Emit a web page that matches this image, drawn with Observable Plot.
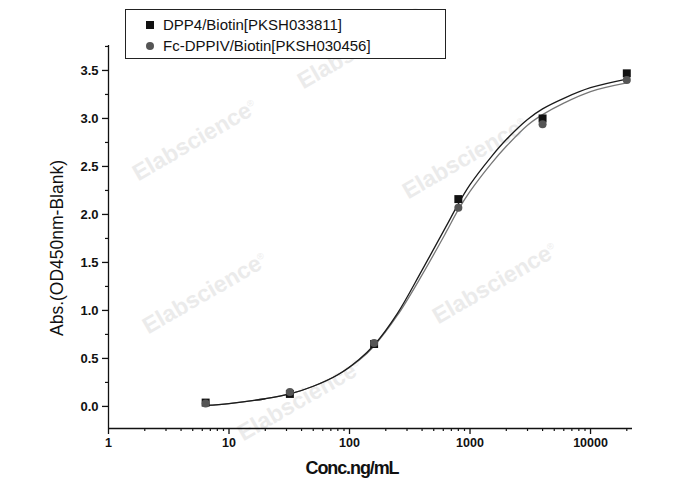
<!DOCTYPE html>
<html>
<head>
<meta charset="utf-8">
<script src="https://cdn.jsdelivr.net/npm/d3@7"></script>
<script src="https://cdn.jsdelivr.net/npm/@observablehq/plot@0.6"></script>
<style>
  html, body { margin: 0; padding: 0; background: #fff; }
  #wrap { position: relative; width: 688px; height: 490px; font-family: "Liberation Sans", Arial, sans-serif; overflow: hidden; }
  .wm { position: absolute; color: #ebebeb; font-weight: bold; font-size: 23px; transform: translate(-50%, -50%) rotate(-30deg); white-space: nowrap; z-index: 0; }
  .wm sup { font-size: 9px; font-weight: normal; }
  #plot { position: absolute; left: 0; top: 0; z-index: 1; }
  #legend { position: absolute; left: 125px; top: 9px; width: 321px; height: 50px; border: 1px solid #222; background: #fff; z-index: 2; box-sizing: border-box; font-size: 15px; color: #111; }
  .lrow { position: absolute; left: 20px; display: flex; align-items: center; }
  .sq { width: 8px; height: 8px; background: #111; margin-right: 9px; }
  .ci { width: 8px; height: 8px; border-radius: 50%; background: #555; margin-right: 9px; }
  #ytitle { position: absolute; left: 57px; top: 248px; transform: translate(-50%, -50%) rotate(-90deg); font-size: 17.5px; color: #111; white-space: nowrap; z-index: 2; }
  #xtitle { position: absolute; left: 352px; top: 468px; transform: translate(-50%, -50%); font-size: 18px; font-weight: bold; color: #111; white-space: nowrap; letter-spacing: -1.1px; z-index: 2; }
</style>
</head>
<body>
<div id="wrap"></div>
<script>
// Measured points
const conc = [6.4, 32, 160, 800, 4000, 20000];
const dpp4 = [0.04, 0.13, 0.65, 2.16, 3.00, 3.47];
const fcDppiv = [0.03, 0.15, 0.66, 2.07, 2.94, 3.40];

// Fitted curves
const curveConc = [6.4, 10, 20, 32, 50, 80, 120, 160, 250, 400, 630, 800, 1000, 1500, 2000, 3000, 4000, 6000, 10000, 20000];
const curveDpp4 = [0.01, 0.03, 0.08, 0.13, 0.21, 0.33, 0.49, 0.64, 0.97, 1.42, 1.87, 2.11, 2.31, 2.60, 2.78, 2.99, 3.10, 3.21, 3.32, 3.41];
const curveFc   = [0.01, 0.03, 0.08, 0.13, 0.21, 0.33, 0.48, 0.63, 0.95, 1.37, 1.81, 2.05, 2.24, 2.53, 2.71, 2.93, 3.04, 3.16, 3.28, 3.37];

const seriesNames = ["DPP4/Biotin[PKSH033811]", "Fc-DPPIV/Biotin[PKSH030456]"];

// Axes ticks
const xMajor = [1, 10, 100, 1000, 10000];
const xMinor = [2,3,4,5,6,7,8,9, 20,30,40,50,60,70,80,90, 200,300,400,500,600,700,800,900, 2000,3000,4000,5000,6000,7000,8000,9000, 20000];
const yMajor = [0, 0.5, 1.0, 1.5, 2.0, 2.5, 3.0, 3.5];
const yMinor = [0.25, 0.75, 1.25, 1.75, 2.25, 2.75, 3.25, 3.75];
const xDomain = [1, 22300];
const yDomain = [-0.23, 3.76];

const watermarks = [
  [195, 140], [360, 48], [465, 158], [205, 293], [495, 283], [300, 400]
];

const pts1 = conc.map((c, i) => ({c, v: dpp4[i]}));
const pts2 = conc.map((c, i) => ({c, v: fcDppiv[i]}));
const cur1 = curveConc.map((c, i) => ({c, v: curveDpp4[i]}));
const cur2 = curveConc.map((c, i) => ({c, v: curveFc[i]}));

const plot = Plot.plot({
  width: 688,
  height: 490,
  marginLeft: 108,
  marginRight: 56,
  marginTop: 45,
  marginBottom: 62,
  style: { background: "transparent", fontFamily: "'Liberation Sans', Arial, sans-serif", color: "#111" },
  x: { type: "log", domain: xDomain },
  y: { domain: yDomain },
  marks: [
    Plot.axisX({ ticks: xMinor, tickSize: 3, tickFormat: () => "", stroke: "#111", strokeWidth: 1.2, label: null }),
    Plot.axisX({ ticks: xMajor, tickSize: 6, tickPadding: 4, tickFormat: d3.format("d"), fontSize: 12.5, fontWeight: "bold", stroke: "#111", strokeWidth: 1.3, label: null }),
    Plot.axisY({ ticks: yMinor, tickSize: 3, tickFormat: () => "", stroke: "#111", strokeWidth: 1.2, label: null }),
    Plot.axisY({ ticks: yMajor, tickSize: 6, tickPadding: 4, tickFormat: d3.format(".1f"), fontSize: 13, fontWeight: "bold", stroke: "#111", strokeWidth: 1.3, label: null }),
    Plot.ruleY([yDomain[0]], { stroke: "#111", strokeWidth: 1.3 }),
    Plot.ruleX([xDomain[0]], { stroke: "#111", strokeWidth: 1.3 }),
    Plot.line(cur2, { x: "c", y: "v", curve: "catmull-rom", stroke: "#777", strokeWidth: 1.3 }),
    Plot.line(cur1, { x: "c", y: "v", curve: "catmull-rom", stroke: "#1a1a1a", strokeWidth: 1.3 }),
    Plot.dot(pts1, { x: "c", y: "v", symbol: "square", r: 4.5, fill: "#111", stroke: "none" }),
    Plot.dot(pts2, { x: "c", y: "v", symbol: "circle", r: 4, fill: "#555", stroke: "none" })
  ]
});
plot.id = "plot";

const wrap = document.getElementById("wrap");
watermarks.forEach(([x, y]) => {
  const d = document.createElement("div");
  d.className = "wm";
  d.style.left = x + "px";
  d.style.top = y + "px";
  d.innerHTML = "Elabscience<sup>®</sup>";
  wrap.appendChild(d);
});
wrap.appendChild(plot);

const legend = document.createElement("div");
legend.id = "legend";
legend.innerHTML =
  `<div class="lrow" style="top:6px"><span class="sq"></span><span>${seriesNames[0]}</span></div>` +
  `<div class="lrow" style="top:27px"><span class="ci"></span><span>${seriesNames[1]}</span></div>`;
wrap.appendChild(legend);

const yt = document.createElement("div");
yt.id = "ytitle";
yt.textContent = "Abs.(OD450nm-Blank)";
wrap.appendChild(yt);

const xt = document.createElement("div");
xt.id = "xtitle";
xt.textContent = "Conc.ng/mL";
wrap.appendChild(xt);
</script>
</body>
</html>
